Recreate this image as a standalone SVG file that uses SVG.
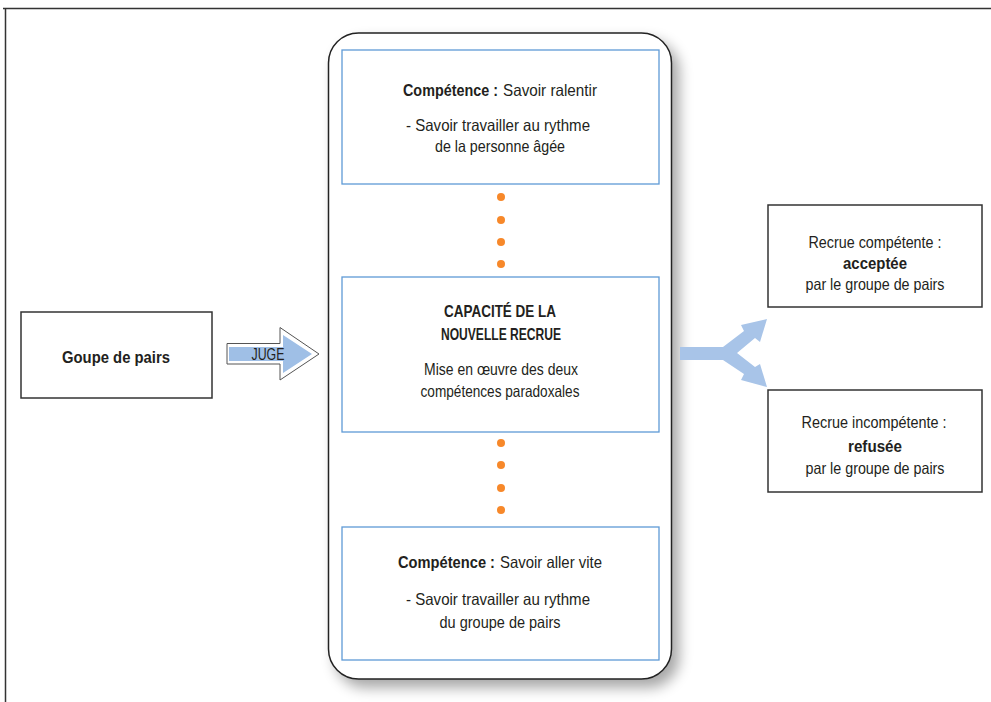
<svg xmlns="http://www.w3.org/2000/svg" width="991" height="702" viewBox="0 0 991 702">
<style>
text{font-family:"Liberation Sans",Arial,sans-serif;font-size:16.5px;fill:#231f20;text-anchor:middle}
.b{font-weight:bold}
.s{text-anchor:start}
.box{fill:#fff;stroke:#333;stroke-width:1.5}
.ibox{fill:#fff;stroke:#5f9ad6;stroke-width:1.3}
.dot{fill:#f7882a}
.frame{fill:none;stroke:#333;stroke-width:1.5}
</style>
<defs>
<filter id="sh" x="-10%" y="-10%" width="130%" height="130%">
<feGaussianBlur in="SourceAlpha" stdDeviation="7"/>
<feOffset dx="7" dy="8" result="o"/>
<feComponentTransfer><feFuncA type="linear" slope="0.35"/></feComponentTransfer>
<feMerge><feMergeNode/><feMergeNode in="SourceGraphic"/></feMerge>
</filter>
</defs>
<rect width="991" height="702" fill="#fff"/>
<path class="frame" d="M3,8.5 H991 M5.5,8 V702"/>

<g id="container">
<rect x="328.5" y="33" width="343" height="646" rx="30" ry="30" fill="#fff" stroke="#222" stroke-width="1.5" filter="url(#sh)"/>
</g>

<g id="competence-ralentir">
<rect class="ibox" x="342" y="50" width="317" height="134"/>
<text class="b s" x="403" y="96" textLength="95" lengthAdjust="spacingAndGlyphs">Compétence :</text>
<text class="s" x="503" y="96" textLength="94" lengthAdjust="spacingAndGlyphs">Savoir ralentir</text>
<text x="498" y="131" textLength="184" lengthAdjust="spacingAndGlyphs">- Savoir travailler au rythme</text>
<text x="500" y="152" textLength="130" lengthAdjust="spacingAndGlyphs">de la personne âgée</text>
</g>

<g id="capacite">
<rect class="ibox" x="342" y="277" width="317" height="155"/>
<text class="b" x="500" y="317" textLength="112" lengthAdjust="spacingAndGlyphs">CAPACITÉ DE LA</text>
<text class="b" x="501" y="340" textLength="120" lengthAdjust="spacingAndGlyphs">NOUVELLE RECRUE</text>
<text x="501" y="375" textLength="154" lengthAdjust="spacingAndGlyphs">Mise en œuvre des deux</text>
<text x="500" y="397" textLength="159" lengthAdjust="spacingAndGlyphs">compétences paradoxales</text>
</g>

<g id="competence-vite">
<rect class="ibox" x="342" y="527" width="317" height="133"/>
<text class="b s" x="398" y="568" textLength="97" lengthAdjust="spacingAndGlyphs">Compétence :</text>
<text class="s" x="500" y="568" textLength="102" lengthAdjust="spacingAndGlyphs">Savoir aller vite</text>
<text x="498" y="605" textLength="184" lengthAdjust="spacingAndGlyphs">- Savoir travailler au rythme</text>
<text x="500" y="628" textLength="121" lengthAdjust="spacingAndGlyphs">du groupe de pairs</text>
</g>

<g id="dots">
<circle class="dot" cx="501" cy="197" r="4"/>
<circle class="dot" cx="501" cy="220" r="4"/>
<circle class="dot" cx="501" cy="242" r="4"/>
<circle class="dot" cx="501" cy="264" r="4"/>
<circle class="dot" cx="501" cy="443" r="4"/>
<circle class="dot" cx="501" cy="465" r="4"/>
<circle class="dot" cx="501" cy="488" r="4"/>
<circle class="dot" cx="501" cy="510" r="4"/>
</g>

<g id="groupe-pairs">
<rect class="box" x="21" y="312" width="191" height="86"/>
<text class="b" x="116" y="363" textLength="108" lengthAdjust="spacingAndGlyphs">Goupe de pairs</text>
</g>

<g id="recrue-competente">
<rect class="box" x="768" y="205" width="214" height="102"/>
<text x="875" y="248" textLength="133" lengthAdjust="spacingAndGlyphs">Recrue compétente :</text>
<text class="b" x="875" y="269" textLength="64" lengthAdjust="spacingAndGlyphs">acceptée</text>
<text x="875" y="290" textLength="139" lengthAdjust="spacingAndGlyphs">par le groupe de pairs</text>
</g>

<g id="recrue-incompetente">
<rect class="box" x="768" y="390" width="214" height="102"/>
<text x="874" y="428" textLength="145" lengthAdjust="spacingAndGlyphs">Recrue incompétente :</text>
<text class="b" x="875" y="452" textLength="54" lengthAdjust="spacingAndGlyphs">refusée</text>
<text x="875" y="474" textLength="139" lengthAdjust="spacingAndGlyphs">par le groupe de pairs</text>
</g>

<g id="connectors">
<g id="juge-arrow">
<polygon points="227,343.5 280,343.5 280,327.5 319,354 280,380 280,364 227,364" fill="#fff" stroke="#555" stroke-width="1"/>
<polygon points="229,347 283,347 283,335 312,354 283,373 283,361 229,361" fill="#9fbfe6"/>
<text x="268" y="360" style="font-size:17px" textLength="33" lengthAdjust="spacingAndGlyphs">JUGE</text>
</g>
<polygon id="fork-arrow" fill="#a8c4e8" points="680,347 723,347 744,331 741,325 767,319 760,342 755,338 737,353 755,367 760,364 767,387 741,380 744,374 723,360 680,360"/>
</g>
</svg>
